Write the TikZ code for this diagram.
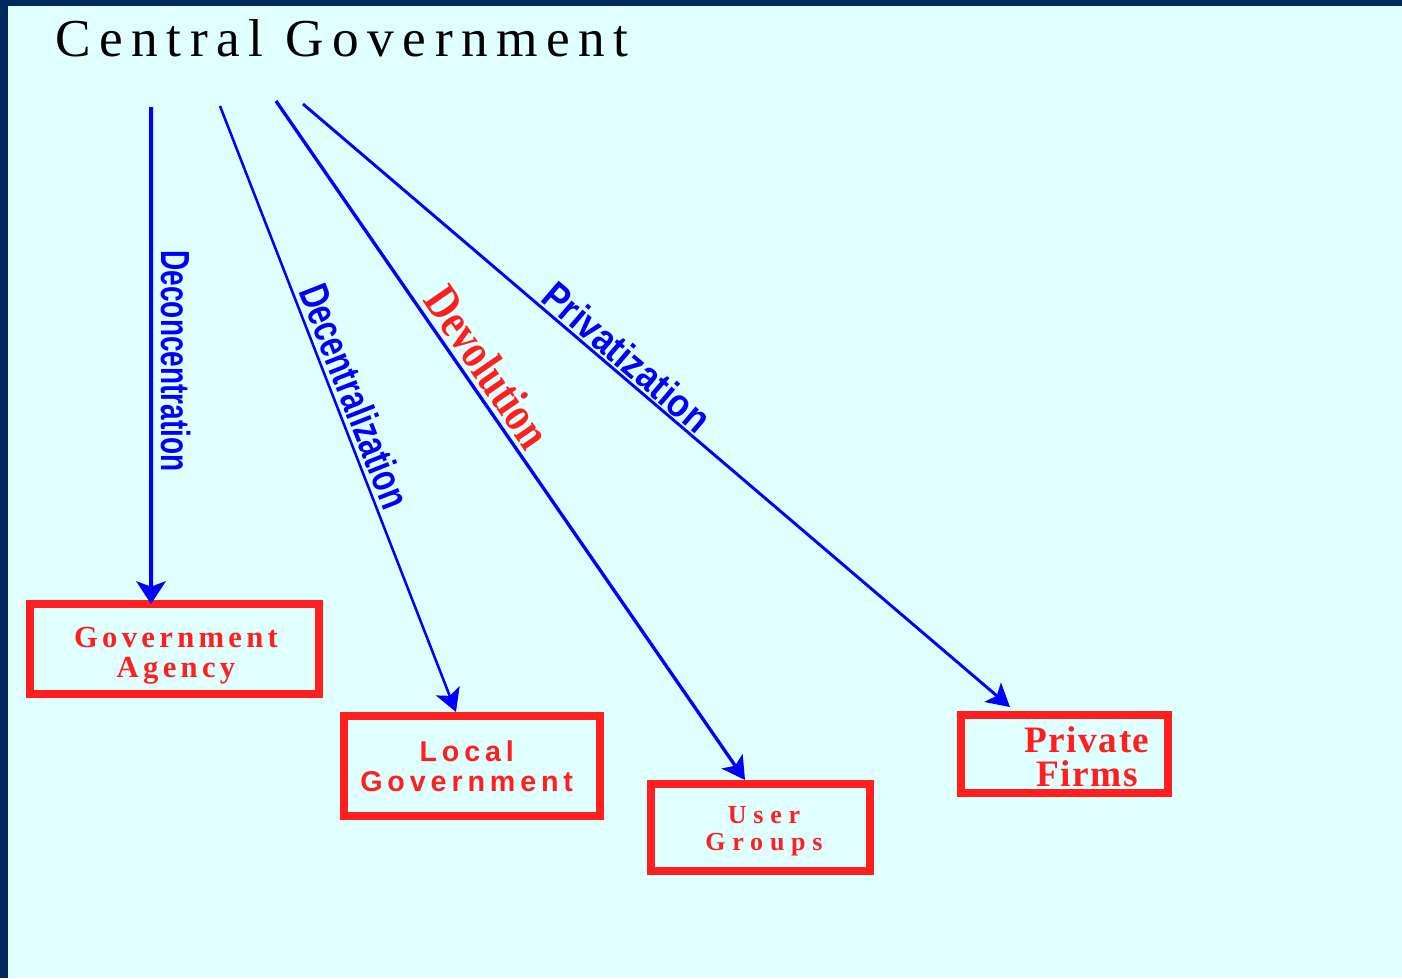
\documentclass[tikz,border=0pt]{standalone}
\usepackage{fontspec}
\usepackage{graphicx}
\setmainfont{Liberation Serif}
\newfontfamily\arialf{Liberation Sans}
\usetikzlibrary{arrows.meta}
\definecolor{navy}{HTML}{002A5C}
\definecolor{bgcyan}{HTML}{E0FFFF}
\definecolor{boxred}{HTML}{FF1F1F}
\definecolor{arrowblue}{HTML}{0000FF}
\begin{document}
\begin{tikzpicture}[x=0.75pt,y=-0.75pt,
  box/.style={draw=boxred, line width=6pt, inner sep=0pt},
  boxtext/.style={text=boxred, align=center, inner sep=0pt},
  conn/.style={draw=arrowblue, line width=2.2pt, -{Stealth[length=17pt,width=19pt,inset=4pt]}},
  lbl/.style={text=arrowblue, inner sep=0pt},
  sanslbl/.style={lbl, font=\arialf\bfseries\fontsize{21pt}{24pt}\selectfont}]
% background
\fill[navy] (0,0) rectangle (1402,978);
\fill[bgcyan] (8,6) rectangle (1402,978);
\useasboundingbox (0,0) rectangle (1402,978);
% title
\node[anchor=base west, inner sep=0pt, font=\fontsize{40pt}{44pt}\selectfont\addfontfeature{LetterSpace=16}] (cg) at (55,56) {Central Government};
% start points
\coordinate (s1) at (151,107);
\coordinate (s2) at (220,106);
\coordinate (s3) at (276,101);
\coordinate (s4) at (303,104);
% boxes
\node[box, minimum width=216.75pt, minimum height=67.5pt] (ga) at (174.5,649) {};
\node[box, minimum width=192pt, minimum height=75pt] (lg) at (472,766) {};
\node[box, minimum width=164.25pt, minimum height=65.25pt] (ug) at (760.5,827.5) {};
\node[box, minimum width=155.25pt, minimum height=58.5pt] (pf) at (1064.5,754) {};
% box texts
\node[boxtext, font=\fontsize{23pt}{22.5pt}\selectfont\bfseries\addfontfeature{LetterSpace=14}] (gat) at (176,656)
  {Government\\Agency};
\node[boxtext, font=\arialf\fontsize{21.5pt}{22.5pt}\selectfont\bfseries\addfontfeature{LetterSpace=17}] (lgt) at (466.7,766)
  {Local\\Government};
\node[boxtext, font=\fontsize{19.5pt}{20.25pt}\selectfont\bfseries\addfontfeature{LetterSpace=26}] (ugt) at (764,831)
  {User\\Groups};
\node[boxtext, font=\fontsize{28pt}{25.5pt}\selectfont\bfseries\addfontfeature{LetterSpace=4}] (pft) at (1087,757)
  {Private\\Firms};
% connectors
\draw[conn, line width=3pt, -{Stealth[length=17pt,width=22pt,inset=4pt]}] (s1) -- ([xshift=-17.6pt,yshift=-3pt]ga.north);
\draw[conn, line width=1.9pt] (s2) -- ([xshift=-12pt]lg.north);
\draw[conn, line width=2.5pt] (s3) -- ([xshift=-11.6pt]ug.north);
\draw[conn] (s4) -- ([xshift=-40.9pt,yshift=3pt]pf.north);
% labels
\node[sanslbl, rotate=-90] (l1) at (176,361) {\scalebox{1}[1.45]{Deconcentration}};
\node[sanslbl, font=\arialf\bfseries\fontsize{23pt}{24pt}\selectfont, rotate=-68.6] (l2) at (355,396) {\scalebox{1}[1.35]{Decentralization}};
\node[lbl, text=boxred, rotate=-55.4, font=\bfseries\fontsize{29.5pt}{32pt}\selectfont] (l3) at (488,367) {\scalebox{1}[1.25]{Devolution}};
\node[sanslbl, font=\arialf\bfseries\fontsize{26pt}{27pt}\selectfont, rotate=-40.5] (l4) at (627,357) {\scalebox{1}[1.15]{Privatization}};
\end{tikzpicture}
\end{document}
